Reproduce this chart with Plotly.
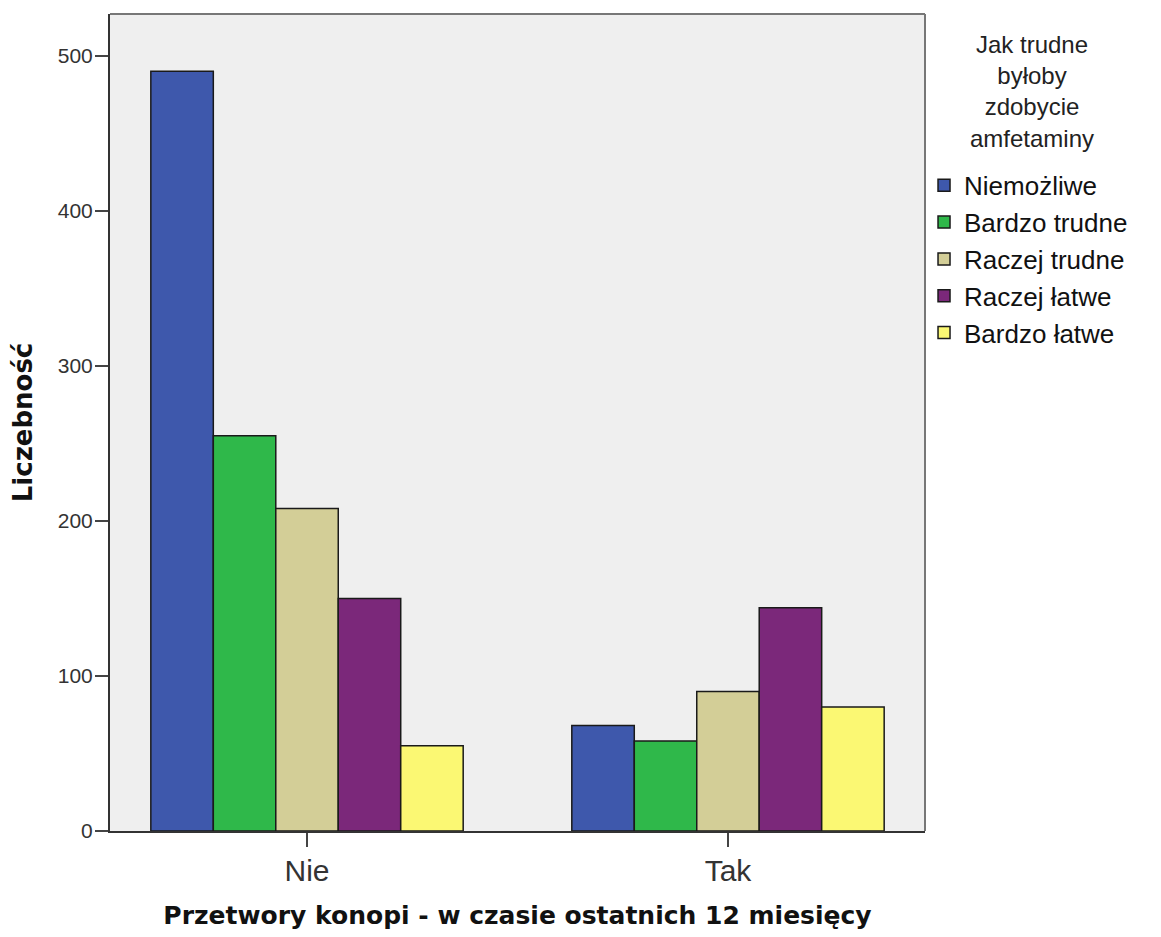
import plotly.graph_objects as go

categories = ["Nie", "Tak"]
series_names = ["Niemożliwe", "Bardzo trudne", "Raczej trudne", "Raczej łatwe", "Bardzo łatwe"]
values = {
    "Niemożliwe": [490, 68],
    "Bardzo trudne": [255, 58],
    "Raczej trudne": [208, 90],
    "Raczej łatwe": [150, 144],
    "Bardzo łatwe": [55, 80],
}
colors = ["#3e58ac", "#2fb84a", "#d3ce97", "#7b287a", "#fbf873"]
y_ticks = [0, 100, 200, 300, 400, 500]
legend_title = "Jak trudne<br>byłoby<br>zdobycie<br>amfetaminy"

fig = go.Figure()
for name, col in zip(series_names, colors):
    fig.add_trace(go.Bar(
        x=categories, y=values[name], name=name, legendgroup=name,
        marker=dict(color=col, line=dict(color="#1a1a1a", width=1.5)),
    ))

fig.update_layout(
    width=1153, height=929,
    margin=dict(l=102, r=236, t=6, b=106),
    paper_bgcolor="white", plot_bgcolor="#efefef",
    barmode="group", bargap=0.258, bargroupgap=0,
    font=dict(family="Arial, Liberation Sans, sans-serif", color="#222"),
    legend=dict(
        x=0.9988, y=0.819, xanchor="left", yanchor="top",
        font=dict(size=26, family="Arial, Liberation Sans, sans-serif", color="#111"),
        itemwidth=30, tracegroupgap=0, bgcolor="rgba(0,0,0,0)",
    ),
    showlegend=True,
)
fig.add_annotation(
    text=legend_title, xref="paper", yref="paper", x=1.131, y=0.982,
    xanchor="center", yanchor="top", align="center", showarrow=False,
    font=dict(size=24, family="Arial, Liberation Sans, sans-serif", color="#222"),
)
fig.update_xaxes(
    type="category", range=[-0.468, 1.468],
    showline=True, linecolor="#333", linewidth=2, mirror=False,
    ticks="outside", ticklen=14, tickwidth=2, tickcolor="#444",
    tickfont=dict(size=30, color="#333"), ticklabelstandoff=-2,
    title=dict(text="<b>Przetwory konopi - w czasie ostatnich 12 miesięcy</b>",
               font=dict(size=25, family="DejaVu Sans, Verdana, sans-serif", color="#111"),
               standoff=20),
    showgrid=False,
)
fig.update_yaxes(
    range=[0, 527], tickvals=y_ticks,
    showline=True, linecolor="#333", linewidth=2,
    ticks="outside", ticklen=13, tickwidth=2, tickcolor="#444",
    tickfont=dict(size=21, color="#333"), ticklabelstandoff=-2,
    title=dict(text="<b>Liczebność</b>",
               font=dict(size=26, family="DejaVu Sans, Verdana, sans-serif", color="#111"),
               standoff=20),
    showgrid=False, zeroline=False,
)
# top and right frame
fig.add_shape(type="line", xref="paper", yref="paper", x0=0, x1=1, y0=1, y1=1,
              line=dict(color="#777", width=2))
fig.add_shape(type="line", xref="paper", yref="paper", x0=1, x1=1, y0=0, y1=1,
              line=dict(color="#777", width=2))

fig.write_html("out.html")
